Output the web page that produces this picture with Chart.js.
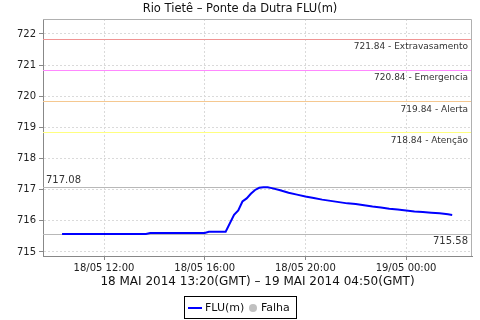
<!DOCTYPE html>
<html>
<head>
<meta charset="utf-8">
<script src="https://cdn.jsdelivr.net/npm/chart.js@4.4.1/dist/chart.umd.min.js"></script>
<style>
  body { margin: 0; background: #fff; }
  #wrap { width: 480px; height: 320px; }
</style>
</head>
<body>
<div id="wrap"><canvas id="chart1"></canvas></div>
<script>
const titulo = 'Rio Tietê – Ponte da Dutra FLU(m)';
const periodo = '18 MAI 2014 13:20(GMT) – 19 MAI 2014 04:50(GMT)';

// hora local (GMT-3), 18/05 -> 19/05
const horas = ['10:20', '13:40', '13:50', '16:00', '16:10', '16:50', '17:10', '17:20', '17:30', '17:40',
               '17:50', '18:00', '18:10', '18:20', '18:30', '18:40', '19:00', '19:20', '19:40', '20:00',
               '20:20', '20:40', '21:00', '21:20', '21:40', '22:00', '22:20', '22:40', '23:00', '23:20',
               '23:40', '00:00', '00:20', '00:40', '01:00', '01:20', '01:40', '01:50'];
const nivel = [715.58, 715.58, 715.61, 715.61, 715.65, 715.65, 716.19, 716.33, 716.62, 716.72,
               716.87, 716.99, 717.06, 717.08, 717.08, 717.05, 716.98, 716.90, 716.84, 716.78,
               716.73, 716.68, 716.64, 716.60, 716.56, 716.54, 716.50, 716.46, 716.43, 716.39,
               716.36, 716.33, 716.30, 716.28, 716.26, 716.24, 716.21, 716.19];

const cotas = [721.84, 720.84, 719.84, 718.84];
const cotasNomes = ['Extravasamento', 'Emergencia', 'Alerta', 'Atenção'];
const cotasCores = ['#f09494', '#ff88ff', '#f5c890', '#ffff80'];

const yTicks = [715, 716, 717, 718, 719, 720, 721, 722];
const xTicks = [12, 16, 20, 24];
const xTickLabels = ['18/05 12:00', '18/05 16:00', '18/05 20:00', '19/05 00:00'];

// horas -> numero (com virada do dia)
let dia = 0, ant = -1;
const pontos = horas.map((h, i) => {
    const p = h.split(':');
    let v = +p[0] + p[1] / 60;
    if (v < ant) dia = 24;
    ant = v;
    return { x: v + dia, y: nivel[i] };
});
const maximo = Math.max(...nivel);
const minimo = Math.min(...nivel);

const extras = {
    id: 'extras',
    beforeDatasetsDraw(chart) {
        const ctx = chart.ctx, a = chart.chartArea, y = chart.scales.y;
        ctx.save();
        ctx.lineWidth = 1;
        cotas.forEach((c, i) => {
            const py = Math.round(y.getPixelForValue(c)) + 0.5;
            ctx.strokeStyle = cotasCores[i];
            ctx.beginPath(); ctx.moveTo(a.left, py); ctx.lineTo(a.right, py); ctx.stroke();
        });
        ctx.strokeStyle = '#b8b8b8';
        [maximo, minimo].forEach(v => {
            const py = Math.round(y.getPixelForValue(v)) + 0.5;
            ctx.beginPath(); ctx.moveTo(a.left, py); ctx.lineTo(a.right, py); ctx.stroke();
        });
        ctx.restore();
    },
    afterDraw(chart) {
        const ctx = chart.ctx, a = chart.chartArea, y = chart.scales.y;
        ctx.save();
        // borda superior e direita
        ctx.strokeStyle = '#b0b0b0';
        ctx.lineWidth = 1;
        ctx.beginPath();
        ctx.moveTo(a.left, a.top + 0.5); ctx.lineTo(a.right - 0.5, a.top + 0.5); ctx.lineTo(a.right - 0.5, a.bottom);
        ctx.stroke();

        ctx.fillStyle = '#333';
        ctx.textBaseline = 'middle';
        ctx.font = '9px "DejaVu Sans"';
        ctx.textAlign = 'right';
        cotas.forEach((c, i) => {
            ctx.fillText(c.toFixed(2) + ' - ' + cotasNomes[i], a.right - 4, y.getPixelForValue(c) + 8);
        });
        ctx.font = '10px "DejaVu Sans"';
        ctx.fillText(minimo.toFixed(2), a.right - 4, y.getPixelForValue(minimo) + 8);
        ctx.textAlign = 'left';
        ctx.fillText(maximo.toFixed(2), a.left + 3, y.getPixelForValue(maximo) - 7);

        // titulo
        ctx.fillStyle = '#111';
        ctx.textAlign = 'center';
        ctx.font = '11.5px "DejaVu Sans"';
        ctx.fillText(titulo, 240, 9);
        ctx.font = '12px "DejaVu Sans"';
        ctx.fillText(periodo, (a.left + a.right) / 2, 282);

        // legenda
        const ds = chart.data.datasets;
        ctx.strokeStyle = '#000';
        ctx.strokeRect(184.5, 296.5, 112, 22);
        ctx.strokeStyle = ds[0].borderColor;
        ctx.lineWidth = 2;
        ctx.beginPath(); ctx.moveTo(188, 308); ctx.lineTo(202, 308); ctx.stroke();
        ctx.font = '11px "DejaVu Sans"';
        ctx.textAlign = 'left';
        ctx.fillStyle = '#111';
        ctx.fillText(ds[0].label, 205, 308);
        ctx.fillStyle = ds[1].backgroundColor;
        ctx.beginPath(); ctx.arc(253, 308, 4, 0, Math.PI * 2); ctx.fill();
        ctx.fillStyle = '#111';
        ctx.fillText(ds[1].label, 261, 308);
        ctx.restore();
    }
};

var ctx = document.getElementById('chart1').getContext('2d');
var myChart = new Chart(ctx, {
    type: 'line',
    data: {
        datasets: [{
            label: 'FLU(m)',
            data: pontos,
            borderColor: '#0000ff',
            borderWidth: 2,
            pointRadius: 0,
            tension: 0,
            fill: false
        }, {
            label: 'Falha',
            data: [],
            backgroundColor: '#c0c0c0',
            borderColor: '#c0c0c0',
            showLine: false
        }]
    },
    options: {
        responsive: true,
        maintainAspectRatio: false,
        animation: false,
        layout: { padding: { top: 19, right: 8, left: 0, bottom: 0 } },
        plugins: {
            legend: { display: false },
            title: { display: false },
            tooltip: { enabled: false }
        },
        scales: {
            x: {
                type: 'linear',
                min: 9.576,
                max: 26.62,
                afterBuildTicks: s => { s.ticks = xTicks.map(v => ({ value: v })); },
                afterFit: s => { s.height = 64; },
                ticks: {
                    autoSkip: false,
                    maxRotation: 0,
                    padding: 2,
                    color: '#222',
                    font: { family: 'DejaVu Sans', size: 10 },
                    callback: (v) => xTickLabels[xTicks.indexOf(v)]
                },
                grid: { color: '#dadada', tickColor: '#888', tickLength: 4 },
                border: { color: '#888', dash: [2, 2] }
            },
            y: {
                min: 714.87,
                max: 722.48,
                afterBuildTicks: s => { s.ticks = yTicks.map(v => ({ value: v })); },
                afterFit: s => { s.width = 43; },
                ticks: {
                    padding: 3,
                    color: '#222',
                    font: { family: 'DejaVu Sans', size: 10 },
                    callback: v => v
                },
                grid: { color: '#dadada', tickColor: '#888', tickLength: 4 },
                border: { color: '#888', dash: [2, 2] }
            }
        }
    },
    plugins: [extras]
});
</script>
</body>
</html>
